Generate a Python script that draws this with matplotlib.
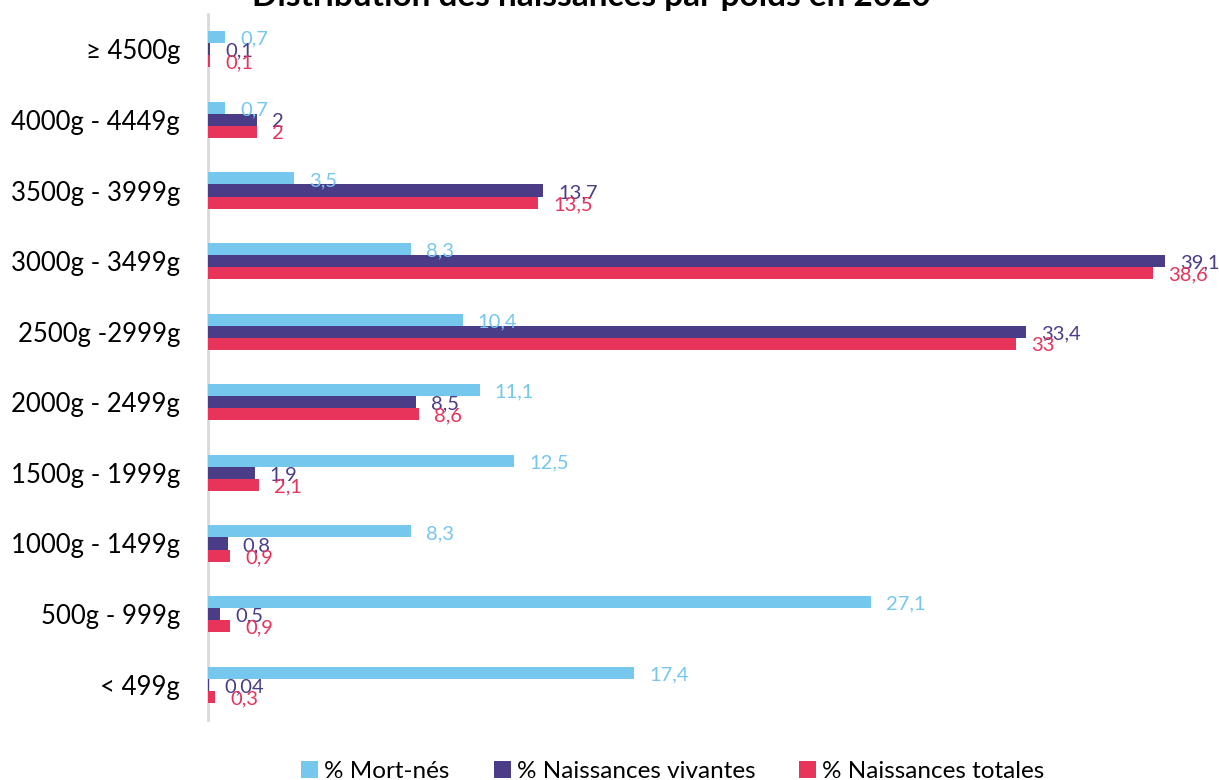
import matplotlib
matplotlib.use("Agg")
import matplotlib.pyplot as plt
import numpy as np

categories = ["< 499g", "500g - 999g", "1000g - 1499g", "1500g - 1999g",
              "2000g - 2499g", "2500g -2999g", "3000g - 3499g",
              "3500g - 3999g", "4000g - 4449g", "\u2265 4500g"]
mort_nes = [17.4, 27.1, 8.3, 12.5, 11.1, 10.4, 8.3, 3.5, 0.7, 0.7]
vivantes = [0.04, 0.5, 0.8, 1.9, 8.5, 33.4, 39.1, 13.7, 2, 0.1]
totales = [0.3, 0.9, 0.9, 2.1, 8.6, 33, 38.6, 13.5, 2, 0.1]

series = [
    ("% Mort-nés", mort_nes, "#75C7EE"),
    ("% Naissances vivantes", vivantes, "#4B3C88"),
    ("% Naissances totales", totales, "#E8335A"),
]

plt.rcParams['font.family'] = ['Lato', 'DejaVu Sans']

fig = plt.figure(figsize=(12.19, 7.8), dpi=100)
ax = fig.add_axes([208 / 1219, 60 / 780, 1002 / 1219, 706 / 780])

y = np.arange(len(categories))
h = 0.17
offsets = [h, 0, -h]

def fmt(v):
    return f"{v:g}".replace(".", ",")

for (name, vals, col), off in zip(series, offsets):
    bars = ax.barh(y + off, vals, height=h, color=col, label=name, zorder=2)
    for b, v in zip(bars, vals):
        ax.annotate(fmt(v), (b.get_width(), b.get_y() + b.get_height() / 2),
                    xytext=(15, -2), textcoords="offset pixels",
                    ha="left", va="center", color=col, fontsize=14.5)

ax.set_xlim(0, 1002 / 24.48)
ax.set_ylim(-0.5, 9.5)
ax.set_yticks(y)
ax.set_yticklabels(categories, fontsize=18.5)
ax.tick_params(axis="y", length=0, pad=20)
ax.set_xticks([])
for s in ["top", "right", "bottom"]:
    ax.spines[s].set_visible(False)
ax.spines["left"].set_color("#D9D9D9")
ax.spines["left"].set_linewidth(2)
ax.spines["left"].set_zorder(1)

fig.text(0.485, 774 / 780, "Distribution des naissances par poids en 2020",
         ha="center", va="baseline", fontsize=24, fontweight="bold")

fig.legend(loc="lower center", bbox_to_anchor=(0.552, -0.03), ncol=3,
           frameon=False, fontsize=17.5, handlelength=0.7, handleheight=0.7,
           handletextpad=0.25, columnspacing=1.8)

fig.savefig("out.png", dpi=100)
